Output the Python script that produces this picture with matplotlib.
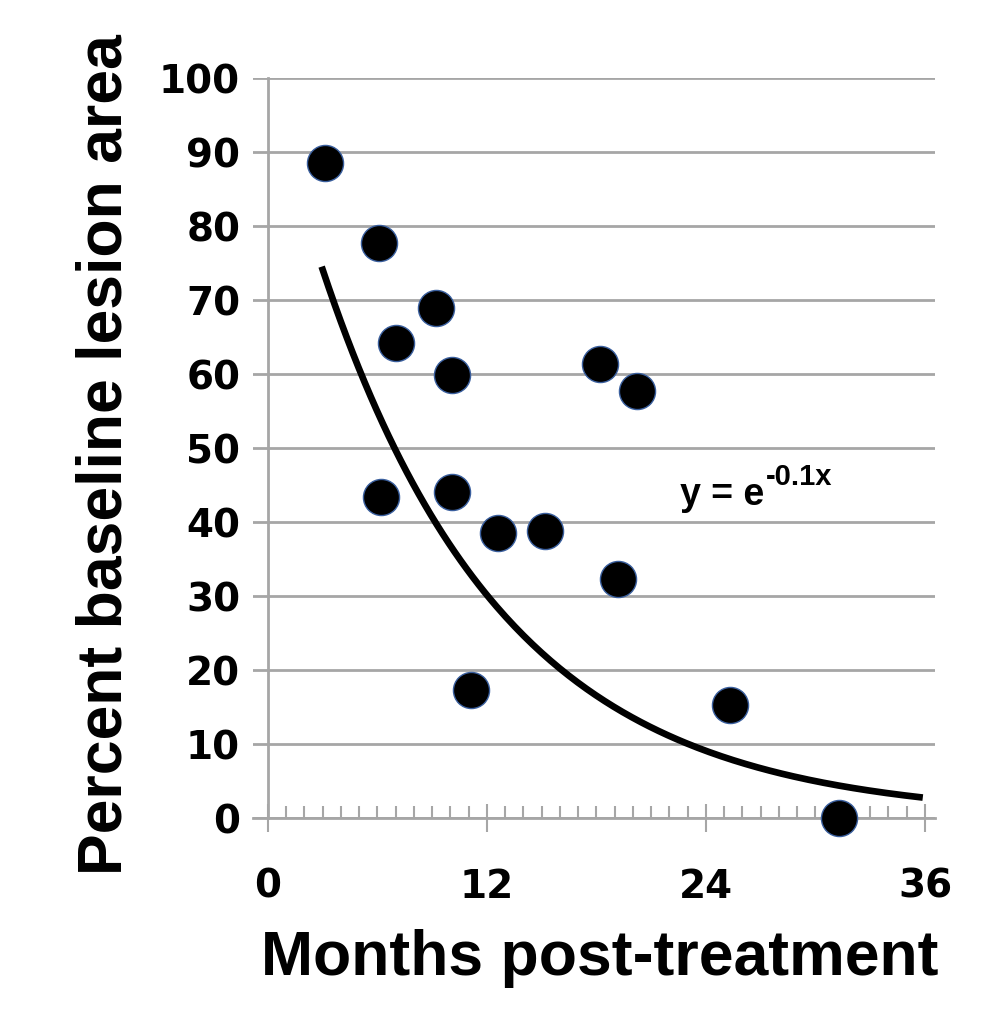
import numpy as np
import matplotlib.pyplot as plt

# data
months = [3.1, 6.1, 7.0, 9.2, 10.1, 6.2, 10.1, 12.6, 15.2, 11.1, 18.2, 20.2, 19.2, 25.3, 31.3]
percent = [88.5, 77.7, 64.2, 68.9, 59.9, 43.4, 44.1, 38.5, 38.8, 17.3, 61.4, 57.7, 32.3, 15.3, 0.0]

# trendline shown on the chart: y = e^(-0.1x), in percent
decay_rate = 0.1
fit_start, fit_end = 3, 35.7

x_ticks = [0, 12, 24, 36]
y_ticks = [0, 10, 20, 30, 40, 50, 60, 70, 80, 90, 100]

grey = '#a6a6a6'

fig = plt.figure(figsize=(9.89, 10.11), dpi=100, facecolor='white')
ax = fig.add_axes([253 / 989, 1 - 818 / 1011, 682 / 989, 740 / 1011])
ax.set_xlim(-0.82, 36.55)
ax.set_ylim(0, 100)

# grid and axes
ax.set_yticks(y_ticks)
ax.yaxis.grid(True, color=grey, linewidth=2)
ax.set_axisbelow(True)
for s in ['top', 'right']:
    ax.spines[s].set_visible(False)
ax.spines['left'].set_position(('data', 0))
ax.spines['left'].set_color(grey)
ax.spines['left'].set_linewidth(2)
ax.spines['bottom'].set_color(grey)
ax.spines['bottom'].set_linewidth(2)

ax.set_xticks(x_ticks)
ax.set_xticks(range(1, 36), minor=True)
ax.tick_params(axis='x', which='major', direction='inout', length=20, width=1.5,
               color=grey, pad=26, labelsize=28)
ax.tick_params(axis='x', which='minor', direction='in', length=9, width=1.5, color=grey)
ax.tick_params(axis='y', length=0, pad=20, labelsize=28)
for lab in ax.get_xticklabels() + ax.get_yticklabels():
    lab.set_fontweight('bold')
    lab.set_family('DejaVu Sans')

# trendline
xf = np.linspace(fit_start, fit_end, 200)
ax.plot(xf, 100 * np.exp(-decay_rate * xf), color='black', linewidth=4.8, zorder=3)

# data points
ax.plot(months, percent, 'o', color='black', markersize=26, markeredgecolor='#3a5f9e',
        markeredgewidth=1, zorder=4, clip_on=False)

# equation
t1 = ax.text(22.6, 42.3, 'y = e', fontsize=27, fontweight='bold',
             family='Liberation Sans', va='baseline', ha='left')
ax.annotate('-0.1x', xy=(1.02, 0.6), xycoords=t1, fontsize=21, fontweight='bold',
            family='Liberation Sans', va='bottom', ha='left')

fig.text(600 / 989, 1 - 958 / 1011, 'Months post-treatment', fontsize=45,
         fontweight='bold', family='Liberation Sans', ha='center', va='center')
fig.text(105 / 989, 1 - 455 / 1011, 'Percent baseline lesion area', fontsize=45,
         fontweight='bold', family='Liberation Sans', ha='center', va='center',
         rotation=90)

fig.savefig('out.png', dpi=100, facecolor='white')
